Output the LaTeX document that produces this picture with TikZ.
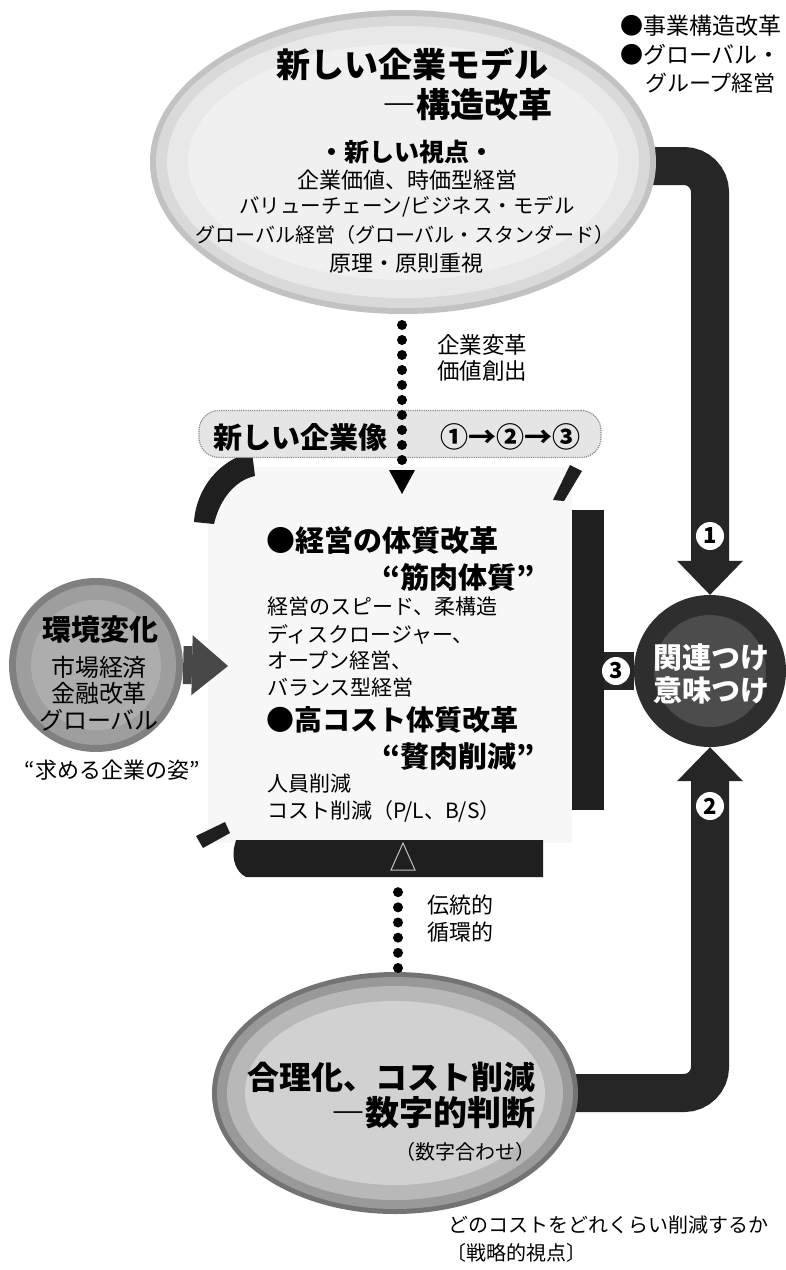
\documentclass[tikz,border=0pt]{standalone}
\usepackage{fontspec}
\setmainfont{Noto Sans CJK JP}
\usetikzlibrary{shapes.geometric,arrows.meta,calc}
\newcommand\jfs[1]{\fontsize{#1pt}{#1pt}\selectfont}
\begin{document}
\begin{tikzpicture}[x=1pt,y=-1pt,
 tx/.style={inner sep=0pt,outer sep=0pt},
 band/.style={line width=38pt, draw=black!85},
 bigtip/.style={-{Triangle[length=34pt,width=66pt,line width=0pt]}},
 dotsty/.style={line width=10pt, line cap=round, draw=black},
 numc/.style={circle, fill=white, inner sep=0pt, minimum size=28pt, font=\jfs{22}\bfseries, text=black},
 framec/.style={fill=black!88},
]
\useasboundingbox (0,0) rectangle (786,1270);
\fill[white] (0,0) rectangle (786,1270);

% shape anchors
\node[ellipse, inner sep=0, minimum width=506pt, minimum height=304pt] (topell) at (403,162) {};
\node[ellipse, inner sep=0, minimum width=366pt, minimum height=242pt] (botell) at (395,1093) {};
\node[circle, inner sep=0, minimum size=152pt] (rel) at (710,671) {};
\node[circle, inner sep=0, minimum size=174pt] (env) at (96,665) {};
\node[rectangle, inner sep=0, minimum width=364pt, minimum height=376pt, fill=black!3] (cbox) at (390,655) {};

% bands 1 and 2
\coordinate (b1s) at (600,166);
\coordinate (b2s) at (520,1093);
\draw[band, rounded corners=26pt, bigtip] (b1s) -| (rel.north);
\draw[band, rounded corners=26pt, bigtip] (b2s) -| (rel.south);

% top ellipse
\fill[black!24] (topell.center) ellipse [x radius=253, y radius=152];
\fill[black!15] (topell.center) ellipse [x radius=247, y radius=146];
\fill[black!9] (topell.center) ellipse [x radius=236, y radius=136];
\fill[black!6] (topell.center) ellipse [x radius=215, y radius=118];

% bottom ellipse
\fill[black!55] (botell.center) ellipse [x radius=183, y radius=121];
\fill[black!40] (botell.center) ellipse [x radius=178, y radius=116];
\fill[black!28] (botell.center) ellipse [x radius=168, y radius=107];
\fill[black!18] (botell.center) ellipse [x radius=150, y radius=92];

% environment circle and arrow
\fill[black!50] (env.center) circle [radius=87];
\fill[black!38] (env.center) circle [radius=80];
\fill[black!32] (env.center) circle [radius=65];
\coordinate (lt) at (228,666);
\draw[line width=38pt, draw=black!72, -{Triangle[length=36pt,width=60pt,line width=0pt]}] (env.east) -- (lt);

% right bar, stub 3, relation circle
\node[framec, inner sep=0, minimum width=32pt, minimum height=300pt] (rbar) at (588,660) {};
\draw[line width=38pt, draw=black!85] (rbar.east |- rel.west) -- (rel.west);
\fill[black!82] (rel.center) circle [radius=76];
\fill[black!70] (rel.center) circle [radius=56];

% frame pieces
\fill[framec] (194,522) .. controls (196,490) and (218,460) .. (252,452) -- (255,476) .. controls (236,480) and (220,498) .. (214,524) -- cycle;
\fill[framec] (553,500) -- (564,501) -- (582,471) -- (570,465) -- cycle;
\fill[framec] (236,840) -- (543,840) -- (543,877) -- (246,877) .. controls (236,872) and (232,860) .. (234,848) -- cycle;
\fill[framec] (196,836) -- (225,822) -- (230,833) -- (203,848) -- cycle;

% banner
\node[draw=black!45, densely dotted, line width=1.2pt, fill=black!10, rounded corners=20pt, minimum width=402pt, minimum height=47pt, inner sep=0] (banner) at (400,434) {};
\node[tx, font=\jfs{29}\bfseries, anchor=west] (bt1) at (213,437) {新しい企業像};
\node[tx, font=\jfs{28}\bfseries] (bt2) at (510,437) {①→②→③};

% dotted arrows
\coordinate (d1s) at (402,325);
\coordinate (d1e) at (402,460);
\coordinate (tip1) at (402,494);
\draw[dotsty, dash pattern=on 0pt off 15pt] (d1s) -- (d1e);
\fill (tip1) -- ++(-13,-24) -- ++(26,0) -- cycle;

\coordinate (d2s) at (398,968);
\coordinate (d2e) at (398,877);
\coordinate (tip2) at (403,843);
\draw[dotsty, dash pattern=on 0pt off 15.17pt] (d2s) -- (d2e);
\draw[black!25, line width=1pt] (tip2) -- ++(-12,27) -- ++(24,0) -- cycle;

% numbers
\node[numc] (n1) at (710,536) {1};
\node[numc] (n2) at (710,806) {2};
\node[numc] (n3) at (616,671) {3};

% top ellipse text
\node[tx,font=\jfs{34}\bfseries] (h1) at (412,64) {新しい企業モデル};
\node[tx,font=\jfs{34}\bfseries,anchor=east] (h2) at (552,105) {―構造改革};
\node[tx,font=\jfs{25}\bfseries] (h3) at (407,152) {・新しい視点・};
\node[tx,font=\jfs{22}] (h4) at (407,180) {企業価値、時価型経営};
\node[tx,font=\jfs{20.5}] (h5) at (407,207) {バリューチェーン/ビジネス・モデル};
\node[tx,font=\jfs{20}] (h6) at (405,235) {グローバル経営（グローバル・スタンダード）};
\node[tx,font=\jfs{22}] (h7) at (406,263) {原理・原則重視};

% top right
\node[tx,font=\jfs{23},anchor=west] (r1) at (620,26) {●事業構造改革};
\node[tx,font=\jfs{23},anchor=west] (r2) at (620,55) {●グローバル・};
\node[tx,font=\jfs{22},anchor=west] (r3) at (645,83) {グループ経営};

% labels
\node[tx,font=\jfs{22.5},anchor=west] (l1) at (437,345) {企業変革};
\node[tx,font=\jfs{22.5},anchor=west] (l2) at (437,371) {価値創出};
\node[tx,font=\jfs{22},anchor=west] (l3) at (427,905) {伝統的};
\node[tx,font=\jfs{22},anchor=west] (l4) at (427,932) {循環的};

% center box text
\node[tx,font=\jfs{29}\bfseries,anchor=west] (c1) at (266,540) {●経営の体質改革};
\node[tx,font=\jfs{29}\bfseries,anchor=east] (c2) at (535,577) {“筋肉体質”};
\node[tx,font=\jfs{21},anchor=west] (c3) at (267,607) {経営のスピード、柔構造};
\node[tx,font=\jfs{21},anchor=west] (c4) at (267,634) {ディスクロージャー、};
\node[tx,font=\jfs{21},anchor=west] (c5) at (267,661) {オープン経営、};
\node[tx,font=\jfs{21},anchor=west] (c6) at (267,688) {バランス型経営};
\node[tx,font=\jfs{28}\bfseries,anchor=west] (c7) at (266,720) {●高コスト体質改革};
\node[tx,font=\jfs{29}\bfseries,anchor=east] (c8) at (535,757) {“贅肉削減”};
\node[tx,font=\jfs{21},anchor=west] (c9) at (267,784) {人員削減};
\node[tx,font=\jfs{21},anchor=west] (c10) at (267,811) {コスト削減（P/L、B/S）};

% environment text
\node[tx,font=\jfs{29}\bfseries] (e1) at (100,630) {環境変化};
\node[tx,font=\jfs{24}] (e2) at (99,667) {市場経済};
\node[tx,font=\jfs{24}] (e3) at (99,693) {金融改革};
\node[tx,font=\jfs{24}] (e4) at (99,720) {グローバル};
\node[tx,font=\jfs{22}] (e5) at (112,770) {“求める企業の姿”};

% relation text
\node[tx,font=\jfs{29}\bfseries,text=white] (m1) at (711,657) {関連つけ};
\node[tx,font=\jfs{29}\bfseries,text=white] (m2) at (711,690) {意味つけ};

% bottom ellipse text
\node[tx,font=\jfs{32}\bfseries,anchor=east] (k1) at (535,1077) {合理化、コスト削減};
\node[tx,font=\jfs{34}\bfseries,anchor=east] (k2) at (535,1113) {―数字的判断};
\node[tx,font=\jfs{20},anchor=east] (k3) at (535,1152) {（数字合わせ）};

% bottom note
\node[tx,font=\jfs{20},anchor=west] (f1) at (448,1225) {どのコストをどれくらい削減するか};
\node[tx,font=\jfs{20},anchor=west] (f2) at (446,1253) {〔戦略的視点〕};
\end{tikzpicture}
\end{document}
